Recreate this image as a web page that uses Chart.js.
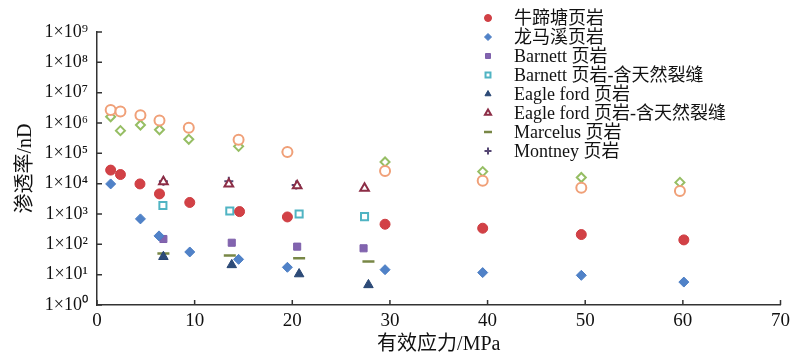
<!DOCTYPE html>
<html>
<head>
<meta charset="utf-8">
<script src="https://cdn.jsdelivr.net/npm/chart.js@4/dist/chart.umd.min.js"></script>
<style>
  body { margin: 0; background: #fff; }
</style>
</head>
<body>
<canvas id="chart" width="795" height="360"></canvas>
<script>
// data: effective stress (MPa) vs permeability (nD)
const niutitangStress = [1.4, 2.4, 4.4, 6.4, 9.5, 14.6, 19.5, 29.5, 39.5, 49.6, 60.1];
const niutitangPerm   = [2.8e4, 2.0e4, 9.8e3, 4.6e3, 2.4e3, 1.2e3, 800, 460, 340, 210, 140];

const longmaxiStress = [1.4, 4.45, 6.35, 9.5, 14.5, 19.5, 29.5, 39.5, 49.6, 60.1];
const longmaxiPerm   = [9.8e3, 690, 190, 56, 32, 17.5, 14.6, 11.7, 9.5, 5.7];

const barnettStress = [6.8, 13.8, 20.5, 27.3];
const barnettPerm   = [150, 113, 84, 74];

const barnettFracStress = [6.75, 13.6, 20.7, 27.4];
const barnettFracPerm   = [1.9e3, 1.25e3, 1.0e3, 820];

const eagleStress = [6.8, 13.8, 20.7, 27.8];
const eaglePerm   = [39, 21, 10.5, 4.6];

const eagleFracStress = [6.8, 13.5, 20.5, 27.4];
const eagleFracPerm   = [1.15e4, 9.8e3, 8.6e3, 7.0e3];

const marcelusStress = [6.8, 13.6, 20.7, 27.8];
const marcelusPerm   = [50, 43, 35, 27];

const montneyStress = [6.8, 13.5, 20.4];
const montneyPerm   = [1.2e4, 1.2e4, 9.0e3];

// two unlabelled series in the original figure
const orangeStress = [1.4, 2.4, 4.45, 6.4, 9.4, 14.5, 19.5, 29.5, 39.5, 49.6, 59.7];
const orangePerm   = [2.7e6, 2.4e6, 1.8e6, 1.2e6, 7e5, 2.8e5, 1.1e5, 2.6e4, 1.25e4, 7.4e3, 5.7e3];

const greenStress = [1.4, 2.4, 4.45, 6.4, 9.4, 14.5, 19.5, 29.5, 39.5, 49.6, 59.7];
const greenPerm   = [1.6e6, 5.6e5, 8.6e5, 6e5, 2.9e5, 1.7e5, 1.1e5, 5.2e4, 2.5e4, 1.6e4, 1.1e4];

const yTickValues = [1, 1e1, 1e2, 1e3, 1e4, 1e5, 1e6, 1e7, 1e8, 1e9];
const yTickLabels = ['1×10⁰', '1×10¹', '1×10²', '1×10³', '1×10⁴', '1×10⁵', '1×10⁶', '1×10⁷', '1×10⁸', '1×10⁹'];
const xTickValues = [0, 10, 20, 30, 40, 50, 60, 70];

const serif = '"Liberation Serif", "Times New Roman", "Noto Sans CJK SC", serif';

function pts(xs, ys) {
  return xs.map((x, i) => ({ x: x, y: ys[i] }));
}

// inward tick marks on both axes
const innerTicks = {
  id: 'innerTicks',
  afterDraw(chart) {
    const c = chart.ctx;
    const xs = chart.scales.x, ys = chart.scales.y;
    const a = chart.chartArea;
    c.save();
    c.strokeStyle = '#333';
    c.lineWidth = 1.5;
    c.beginPath();
    xTickValues.forEach(v => {
      const px = xs.getPixelForValue(v);
      c.moveTo(px, a.bottom);
      c.lineTo(px, a.bottom - 5);
    });
    yTickValues.forEach(v => {
      const py = ys.getPixelForValue(v);
      c.moveTo(a.left, py);
      c.lineTo(a.left + 5, py);
    });
    c.stroke();
    c.restore();
  }
};

// legend drawn inside the plot, upper right
const sideLegend = {
  id: 'sideLegend',
  afterDraw(chart) {
    const c = chart.ctx;
    let row = 0;
    c.save();
    c.font = '18px ' + serif;
    c.textBaseline = 'middle';
    chart.data.datasets.forEach(ds => {
      if (!ds.label) return;
      const y = 18 + row * 19;
      c.fillStyle = ds.backgroundColor;
      c.strokeStyle = ds.borderColor;
      c.lineWidth = ds.borderWidth;
      Chart.helpers.drawPoint(c, {
        pointStyle: ds.pointStyle,
        radius: ds.pointStyle === 'line' ? 4 : 3.5,
        rotation: 0,
        borderWidth: ds.borderWidth
      }, 488, y);
      c.fillStyle = '#111';
      c.fillText(ds.label, 514, y + 1);
      row++;
    });
    c.restore();
  }
};

const ctx = document.getElementById('chart').getContext('2d');

const chart = new Chart(ctx, {
  type: 'scatter',
  data: {
    datasets: [{
      label: '',
      data: pts(orangeStress, orangePerm),
      pointStyle: 'circle',
      radius: 5,
      borderWidth: 2,
      borderColor: 'rgba(240, 160, 120, 1)',
      backgroundColor: 'rgba(255, 255, 255, 1)'
    },
    {
      label: '',
      data: pts(greenStress, greenPerm),
      pointStyle: 'rectRot',
      radius: 4.5,
      borderWidth: 2,
      borderColor: 'rgba(150, 190, 100, 1)',
      backgroundColor: 'rgba(255, 255, 255, 1)'
    },
    {
      label: '牛蹄塘页岩',
      data: pts(niutitangStress, niutitangPerm),
      pointStyle: 'circle',
      radius: 5,
      borderWidth: 1,
      borderColor: 'rgba(205, 60, 65, 1)',
      backgroundColor: 'rgba(210, 65, 70, 1)'
    },
    {
      label: '龙马溪页岩',
      data: pts(longmaxiStress, longmaxiPerm),
      pointStyle: 'rectRot',
      radius: 5,
      borderWidth: 1,
      borderColor: 'rgba(75, 125, 195, 1)',
      backgroundColor: 'rgba(80, 130, 200, 1)'
    },
    {
      label: 'Barnett 页岩',
      data: pts(barnettStress, barnettPerm),
      pointStyle: 'rect',
      radius: 5,
      borderWidth: 1,
      borderColor: 'rgba(125, 95, 170, 1)',
      backgroundColor: 'rgba(130, 100, 175, 1)'
    },
    {
      label: 'Barnett 页岩-含天然裂缝',
      data: pts(barnettFracStress, barnettFracPerm),
      pointStyle: 'rect',
      radius: 5,
      borderWidth: 2,
      borderColor: 'rgba(80, 180, 195, 1)',
      backgroundColor: 'rgba(255, 255, 255, 1)'
    },
    {
      label: 'Eagle ford 页岩',
      data: pts(eagleStress, eaglePerm),
      pointStyle: 'triangle',
      radius: 5.5,
      borderWidth: 1,
      borderColor: 'rgba(40, 70, 115, 1)',
      backgroundColor: 'rgba(45, 75, 120, 1)'
    },
    {
      label: 'Eagle ford 页岩-含天然裂缝',
      data: pts(eagleFracStress, eagleFracPerm),
      pointStyle: 'triangle',
      radius: 5,
      borderWidth: 2,
      borderColor: 'rgba(140, 45, 70, 1)',
      backgroundColor: 'rgba(255, 255, 255, 1)'
    },
    {
      label: 'Marcelus 页岩',
      data: pts(marcelusStress, marcelusPerm),
      pointStyle: 'line',
      radius: 6,
      borderWidth: 2.5,
      borderColor: 'rgba(120, 135, 70, 1)',
      backgroundColor: 'rgba(120, 135, 70, 1)'
    },
    {
      label: 'Montney 页岩',
      data: pts(montneyStress, montneyPerm),
      pointStyle: 'cross',
      radius: 4.5,
      borderWidth: 2,
      borderColor: 'rgba(85, 70, 115, 1)',
      backgroundColor: 'rgba(85, 70, 115, 1)'
    }]
  },
  options: {
    responsive: false,
    animation: false,
    layout: {
      padding: { left: 0, top: 32, right: 11, bottom: 0 }
    },
    plugins: {
      legend: { display: false },
      tooltip: { enabled: false }
    },
    scales: {
      x: {
        type: 'linear',
        min: 0,
        max: 70,
        afterBuildTicks(scale) {
          scale.ticks = xTickValues.map(v => ({ value: v }));
        },
        afterFit(scale) {
          scale.height = 55;
        },
        grid: { display: false, drawTicks: false },
        border: { display: true, color: '#333', width: 1.5 },
        ticks: {
          padding: 5,
          color: '#111',
          font: { family: serif, size: 19 }
        },
        title: {
          display: true,
          text: '有效应力/MPa',
          color: '#111',
          font: { family: serif, size: 20 },
          padding: { top: 0, bottom: 3 }
        }
      },
      y: {
        type: 'logarithmic',
        min: 1,
        max: 1e9,
        afterBuildTicks(scale) {
          scale.ticks = yTickValues.map(v => ({ value: v }));
        },
        afterFit(scale) {
          scale.width = 97;
        },
        grid: { display: false, drawTicks: false },
        border: { display: true, color: '#333', width: 1.5 },
        ticks: {
          padding: 9,
          color: '#111',
          font: { family: serif, size: 18 },
          callback: function(value) {
            const i = yTickValues.indexOf(value);
            return i >= 0 ? yTickLabels[i] : '';
          }
        },
        title: {
          display: true,
          text: '渗透率/nD',
          color: '#111',
          font: { family: serif, size: 20 },
          padding: { top: 14, bottom: 0 }
        }
      }
    }
  },
  plugins: [innerTicks, sideLegend]
});
</script>
</body>
</html>
